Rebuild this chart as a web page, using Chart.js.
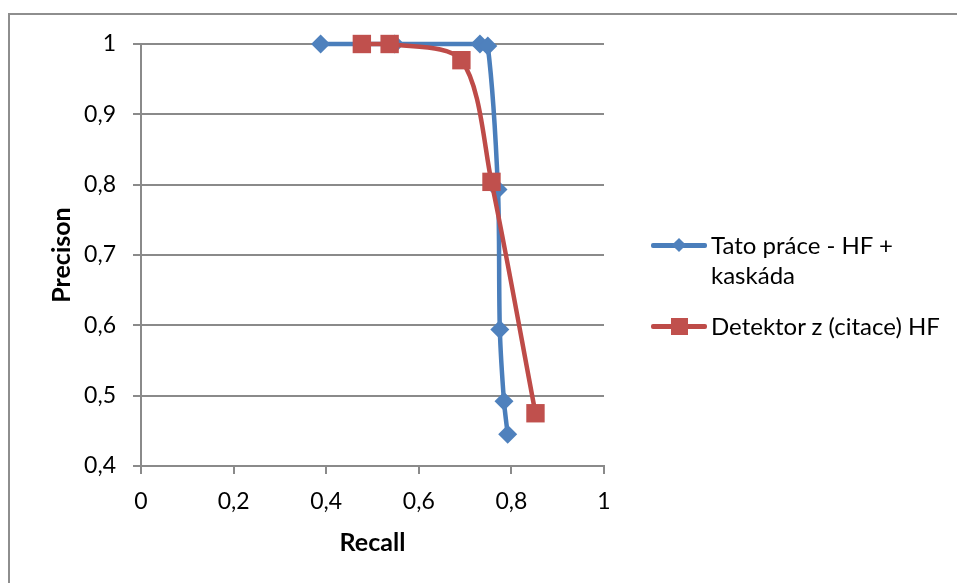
<!DOCTYPE html>
<html lang="cs">
<head>
  <meta charset="UTF-8">
  <title>Precision / Recall</title>
  <style>
    body {
      margin: 0;
      background: #fff;
      font-family: Lato, sans-serif;
    }

    .wrap {
      position: relative;
      width: 957px;
      height: 583px;
      overflow: hidden;
    }

    .frame {
      position: absolute;
      left: 8px;
      top: 13px;
      width: 1000px;
      height: 700px;
      border: 2px solid #8e8e8e;
    }

    .chart-box {
      position: absolute;
      left: 0;
      top: 0;
      width: 957px;
      height: 583px;
    }

    .legend {
      position: absolute;
      left: 651px;
      top: 230px;
      font-size: 24px;
      line-height: 30px;
      color: #000;
    }

    .item {
      position: relative;
      padding-left: 60px;
      margin-bottom: 21px;
      white-space: nowrap;
    }

    .swatch {
      position: absolute;
      left: 0;
      top: 13px;
      width: 56px;
      height: 4.5px;
      border-radius: 2px;
    }

    .swatch i {
      position: absolute;
      left: 50%;
      top: 50%;
    }

    .blue { background: #4a7ebb; }
    .red { background: #be4b48; }

    .blue i {
      width: 10px;
      height: 10px;
      margin: -5px 0 0 -5px;
      background: #4f81bd;
      transform: rotate(45deg);
    }

    .red i {
      width: 17px;
      height: 17px;
      margin: -8.5px 0 0 -8.5px;
      background: #c0504d;
    }
  </style>
</head>
<body>

  <div class="wrap">
    <div class="frame"></div>
    <div class="chart-box"><canvas id="chart"></canvas></div>

    <div class="legend">
      <div class="item"><span class="swatch blue"><i></i></span>Tato práce - HF +<br>kaskáda</div>
      <div class="item"><span class="swatch red"><i></i></span>Detektor z (citace) HF</div>
    </div>
  </div>

  <script src="https://cdn.jsdelivr.net/npm/chart.js"></script>
  <script>
    // Tato práce - HF + kaskáda
    const blueRecall    = [0.388, 0.548, 0.732, 0.749, 0.771, 0.775, 0.784, 0.792];
    const bluePrecision = [1, 1, 1, 0.997, 0.793, 0.594, 0.492, 0.445];

    // Detektor z (citace) HF
    const redRecall    = [0.477, 0.537, 0.692, 0.757, 0.852];
    const redPrecision = [1, 1, 0.977, 0.804, 0.475];

    const xTicks = [0, 0.2, 0.4, 0.6, 0.8, 1];
    const yTicks = [0.4, 0.5, 0.6, 0.7, 0.8, 0.9, 1];

    const GRID = '#8a8a8a';

    function toPoints(xs, ys) {
      return xs.map((x, i) => ({ x: x, y: ys[i] }));
    }

    function fmt(v) {
      return (Math.round(v * 10) / 10).toString().replace('.', ',');
    }

    const ctx = document.getElementById('chart').getContext('2d');
    new Chart(ctx, {
      type: 'scatter',
      data: {
        datasets: [{
          label: 'Tato práce - HF + kaskáda',
          data: toPoints(blueRecall, bluePrecision),
          showLine: true,
          borderColor: '#4a7ebb',
          borderWidth: 4.5,
          backgroundColor: '#4f81bd',
          pointStyle: 'rectRot',
          pointRadius: 9.5,
          pointBorderWidth: 0,
          pointBackgroundColor: '#4f81bd',
          tension: 0.3,
          clip: false,
          order: 2
        }, {
          label: 'Detektor z (citace) HF',
          data: toPoints(redRecall, redPrecision),
          showLine: true,
          borderColor: '#be4b48',
          borderWidth: 4.5,
          backgroundColor: '#c0504d',
          pointStyle: 'rect',
          pointRadius: 13,
          pointBorderWidth: 0,
          pointBackgroundColor: '#c0504d',
          tension: 0.3,
          clip: false,
          order: 1
        }]
      },
      options: {
        responsive: true,
        maintainAspectRatio: false,
        animation: false,
        layout: {
          padding: { left: 0, top: 44, right: 353, bottom: 0 }
        },
        plugins: {
          legend: { display: false },
          tooltip: { enabled: false }
        },
        scales: {
          x: {
            type: 'linear',
            min: 0,
            max: 1,
            afterFit: s => { s.height = 117; },
            afterBuildTicks: s => { s.ticks = xTicks.map(v => ({ value: v })); },
            grid: {
              drawOnChartArea: false,
              drawTicks: true,
              tickLength: 8,
              color: GRID,
              lineWidth: 2
            },
            border: { color: GRID, width: 2 },
            ticks: {
              color: '#000',
              padding: 14,
              maxRotation: 0,
              font: { family: 'Lato', size: 23 },
              callback: v => fmt(v)
            },
            title: {
              display: true,
              text: 'Recall',
              color: '#000',
              font: { family: 'Lato', size: 25, weight: 'bold' },
              padding: { top: 0, bottom: 25 }
            }
          },
          y: {
            type: 'linear',
            min: 0.4,
            max: 1,
            afterFit: s => { s.width = 141; },
            afterBuildTicks: s => { s.ticks = yTicks.map(v => ({ value: v })); },
            grid: {
              drawTicks: true,
              tickLength: 8,
              color: GRID,
              lineWidth: 2
            },
            border: { color: GRID, width: 2 },
            ticks: {
              color: '#000',
              padding: 17,
              font: { family: 'Lato', size: 23 },
              callback: v => fmt(v)
            },
            title: {
              display: true,
              text: 'Precison',
              color: '#000',
              font: { family: 'Lato', size: 25, weight: 'bold' },
              padding: { top: 47, bottom: 0 }
            }
          }
        }
      }
    });
  </script>

</body>
</html>
